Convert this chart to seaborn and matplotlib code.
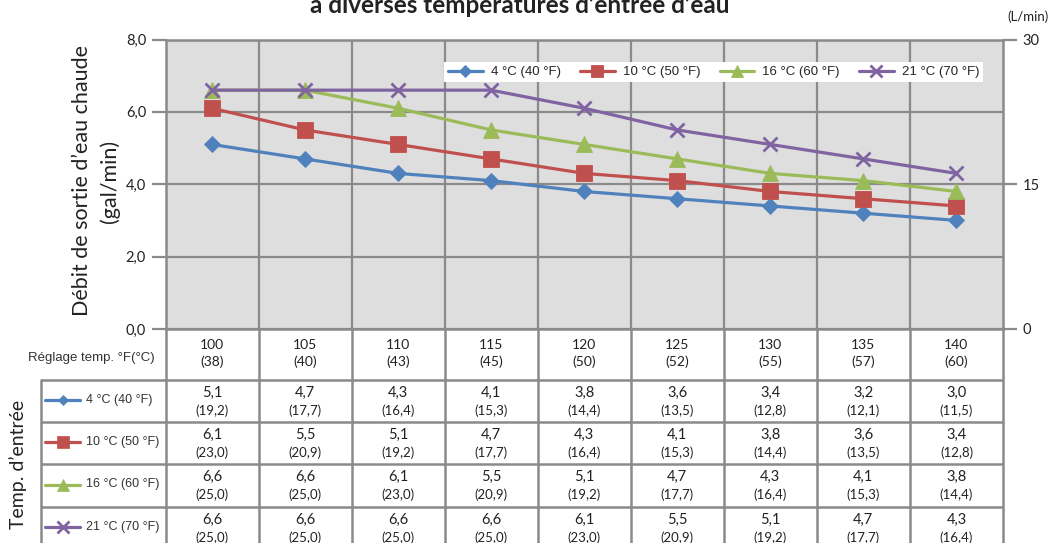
import numpy as np
import pandas as pd
import matplotlib
matplotlib.use("Agg")
import matplotlib.pyplot as plt
import seaborn as sns
from matplotlib.lines import Line2D

# --- data -----------------------------------------------------------------
setpoints_f = ["100", "105", "110", "115", "120", "125", "130", "135", "140"]
setpoints_c = ["(38)", "(40)", "(43)", "(45)", "(50)", "(52)", "(55)", "(57)", "(60)"]
series_names = ["4 °C (40 °F)", "10 °C (50 °F)", "16 °C (60 °F)", "21 °C (70 °F)"]

flow_gal_4c = [5.1, 4.7, 4.3, 4.1, 3.8, 3.6, 3.4, 3.2, 3.0]
flow_gal_10c = [6.1, 5.5, 5.1, 4.7, 4.3, 4.1, 3.8, 3.6, 3.4]
flow_gal_16c = [6.6, 6.6, 6.1, 5.5, 5.1, 4.7, 4.3, 4.1, 3.8]
flow_gal_21c = [6.6, 6.6, 6.6, 6.6, 6.1, 5.5, 5.1, 4.7, 4.3]

flow_l_4c = [19.2, 17.7, 16.4, 15.3, 14.4, 13.5, 12.8, 12.1, 11.5]
flow_l_10c = [23.0, 20.9, 19.2, 17.7, 16.4, 15.3, 14.4, 13.5, 12.8]
flow_l_16c = [25.0, 25.0, 23.0, 20.9, 19.2, 17.7, 16.4, 15.3, 14.4]
flow_l_21c = [25.0, 25.0, 25.0, 25.0, 23.0, 20.9, 19.2, 17.7, 16.4]

left_ticks = [0, 2, 4, 6, 8]
left_tick_labels = ["0,0", "2,0", "4,0", "6,0", "8,0"]
right_ticks = [0, 15, 30]
right_tick_labels = ["0", "15", "30"]

gal_series = [flow_gal_4c, flow_gal_10c, flow_gal_16c, flow_gal_21c]
l_series = [flow_l_4c, flow_l_10c, flow_l_16c, flow_l_21c]

# --- styling ----------------------------------------------------------------
colors = ["#4F81BD", "#C0504D", "#9BBB59", "#8064A2"]
markers = ["D", "s", "^", "x"]
msizes = [7.8, 11.5, 11, 10.5]
tab_msizes = [5.5, 8.5, 8.5, 8]
GRID = "#8A8A8A"
MAIN_FONT = "Lato"
ARIAL = "Liberation Sans"

sns.set_theme(style="white")
plt.rcParams["font.family"] = [MAIN_FONT, "DejaVu Sans"]

W, H = 1060, 543
fig = plt.figure(figsize=(W / 100, H / 100), dpi=100)
fig.patch.set_facecolor("white")

PL, PR, PT, PB = 165.5, 1003.0, 39.5, 329.0
ax = fig.add_axes([PL / W, 1 - PB / H, (PR - PL) / W, (PB - PT) / H])
ax.set_facecolor("#DEDEDE")

x = np.arange(len(setpoints_f))
frames = []
for name, vals in zip(series_names, gal_series):
    frames.append(pd.DataFrame({"pos": x, "flow": vals, "series": name}))
df = pd.concat(frames, ignore_index=True)

for i, name in enumerate(series_names):
    sub = df[df["series"] == name]
    sns.lineplot(data=sub, x="pos", y="flow", ax=ax, color=colors[i],
                 linewidth=2.3, marker=markers[i], markersize=msizes[i],
                 markeredgewidth=2.0 if markers[i] == "x" else 0.6,
                 markeredgecolor=colors[i], label=name, zorder=3 + i)

ax.set_xlim(-0.5, len(x) - 0.5)
ax.set_ylim(0, 8)
ax.set_xlabel("")
ax.set_ylabel("")
ax.set_xticks(np.arange(0.5, len(x) - 0.5, 1))
ax.set_xticklabels([])
ax.tick_params(axis="x", length=0)
ax.set_yticks(left_ticks)
ax.set_yticklabels(left_tick_labels, fontsize=10.5, color="#222222")
ax.tick_params(axis="y", length=10, width=1.6, color=GRID, pad=4)
ax.grid(True, color=GRID, linewidth=1.6)
for s in ax.spines.values():
    s.set_color(GRID)
    s.set_linewidth(1.8)

ax2 = ax.twinx()
ax2.set_ylim(0, 30)
ax2.set_yticks(right_ticks)
ax2.set_yticklabels(right_tick_labels, fontsize=10.5, color="#222222")
ax2.tick_params(axis="y", length=10, width=1.6, color=GRID, pad=4)
for s in ax2.spines.values():
    s.set_visible(False)
ax2.grid(False)

leg = ax.legend(loc="upper right", bbox_to_anchor=(0.984, 0.945), ncol=4,
                frameon=True, fancybox=False, facecolor="white",
                edgecolor="white", framealpha=1.0, borderpad=0.3,
                handlelength=2.6, handletextpad=0.6, columnspacing=1.5,
                prop={"family": ARIAL, "size": 9.5})
leg.get_frame().set_linewidth(0)
for h in leg.legend_handles:
    h.set_markersize(h.get_markersize() * 0.8)

# --- texts around the chart ------------------------------------------------
fig.text(520 / W, 1 - 13 / H, "à diverses températures d’entrée d’eau",
         ha="center", va="baseline", fontsize=17.5, fontweight="bold",
         color="#222222")
fig.text(1028 / W, 1 - 17 / H, "(L/min)", ha="center", va="center",
         fontsize=9.5, color="#222222")
fig.text(96 / W, 1 - 181 / H, "Débit de sortie d’eau chaude\n(gal/min)",
         ha="center", va="center", rotation=90, fontsize=15.5,
         multialignment="center", linespacing=1.45, color="#222222")
fig.text(18 / W, 1 - 464 / H, "Temp. d’entrée", ha="center", va="center",
         rotation=90, fontsize=14, color="#222222")

# --- data table below the plot ------------------------------------------------
TL, TBOT = 41.0, 549.0
tab = fig.add_axes([TL / W, 1 - TBOT / H, (PR - TL) / W, (TBOT - PB) / H])
col_w = (PR - PL) / len(x)
tab.set_xlim(-0.5 - (PL - TL) / col_w, len(x) - 0.5)
tab.set_ylim(TBOT - PB, 0)
tab.axis("off")
left_edge = -0.5 - (PL - TL) / col_w


def tabx(px):
    return -0.5 + (px - PL) / col_w


row_edges = [0, 51, 93, 135, 178, 220]
# horizontal rules
for yv in row_edges[1:]:
    tab.plot([left_edge, len(x) - 0.5], [yv, yv], color=GRID, lw=1.8,
             solid_capstyle="butt", clip_on=False)
# vertical rules
for xv in np.arange(-0.5, len(x), 1):
    tab.plot([xv, xv], [0, 220], color=GRID, lw=1.8, clip_on=False)
tab.plot([left_edge, left_edge], [51, 220], color=GRID, lw=1.8, clip_on=False)

# header row
for i in x:
    tab.text(i, 16, setpoints_f[i], ha="center", va="center", fontsize=10,
             color="#222222")
    tab.text(i, 33, setpoints_c[i], ha="center", va="center", fontsize=10,
             color="#222222")
tab.text(tabx(155), 29, "Réglage temp. °F(°C)", ha="right", va="center",
         fontsize=9.5, family=ARIAL, color="#333333")

# series rows
for r, name in enumerate(series_names):
    top = row_edges[r + 1]
    mid = (row_edges[r + 1] + row_edges[r + 2]) / 2
    tab.add_line(Line2D([tabx(45), tabx(80)], [mid - 1, mid - 1],
                        color=colors[r], lw=2.3))
    tab.add_line(Line2D([tabx(62.5)], [mid - 1], color=colors[r],
                        marker=markers[r], markersize=tab_msizes[r],
                        markeredgewidth=2.0 if markers[r] == "x" else 0.5,
                        markeredgecolor=colors[r], lw=0))
    tab.text(tabx(86), mid - 1, name, ha="left", va="center", fontsize=9,
             family=ARIAL, color="#333333")
    for i in x:
        tab.text(i, top + 13, f"{gal_series[r][i]:.1f}".replace(".", ","),
                 ha="center", va="center", fontsize=10.5, color="#222222")
        tab.text(i, top + 31, "(" + f"{l_series[r][i]:.1f}".replace(".", ",") + ")",
                 ha="center", va="center", fontsize=9.5, color="#222222")

fig.savefig("out.png", dpi=100)
